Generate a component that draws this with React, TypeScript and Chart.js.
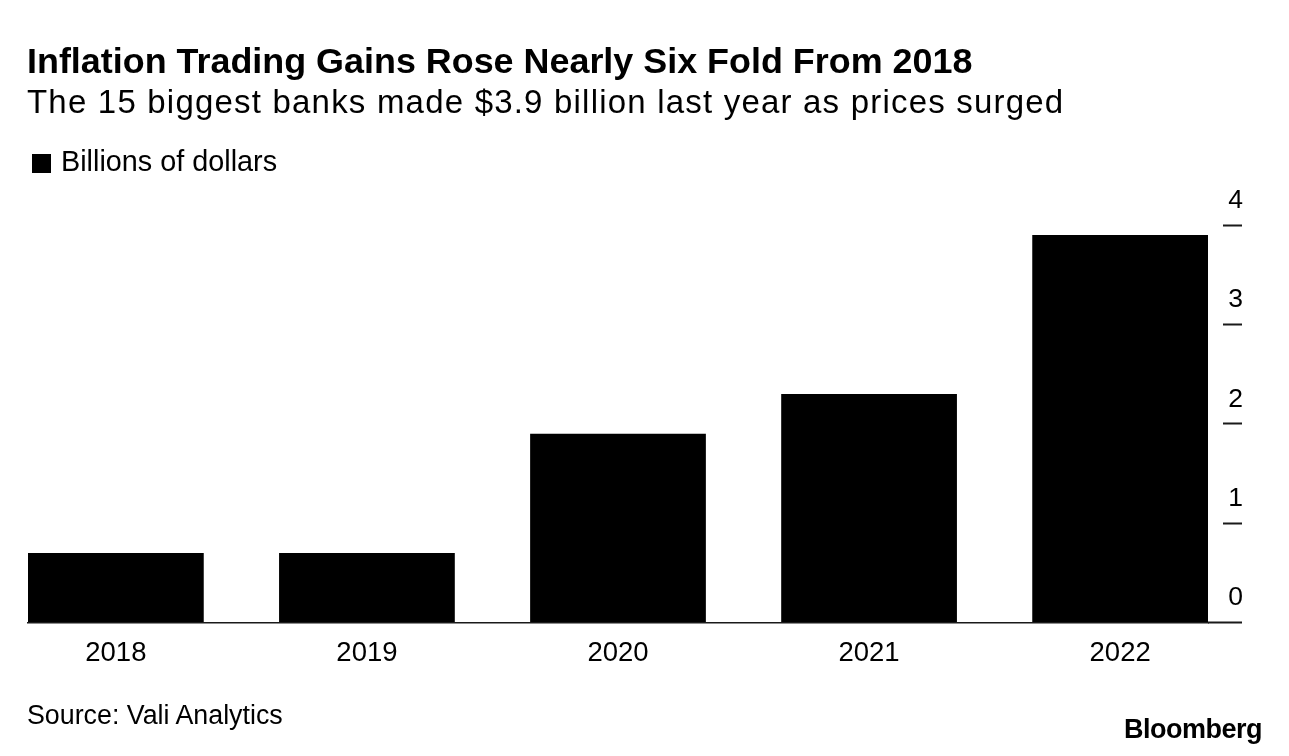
import React, { useEffect, useRef } from "react";
import { Chart, registerables } from "chart.js";

Chart.register(...registerables);

const categories = ["2018", "2019", "2020", "2021", "2022"];
const gains = [0.7, 0.7, 1.9, 2.3, 3.9];
const yMin = 0;
const yMax = 4;
const yStep = 1;
const seriesLabel = "Billions of dollars";
const titleText = "Inflation Trading Gains Rose Nearly Six Fold From 2018";
const subtitleText = "The 15 biggest banks made $3.9 billion last year as prices surged";
const sourceText = "Source: Vali Analytics";
const brandText = "Bloomberg";

const FONT = "'Liberation Sans', Arial, Helvetica, sans-serif";

export default function App() {
  const ref = useRef<HTMLCanvasElement | null>(null);

  useEffect(() => {
    if (!ref.current) return;
    Chart.defaults.font.family = FONT;
    const chart = new Chart(ref.current, {
      type: "bar",
      data: {
        datasets: [
          {
            label: seriesLabel,
            data: gains.map((v, i) => ({ x: i, y: v })),
            backgroundColor: "#000000",
            borderWidth: 0,
            barPercentage: 0.7,
            categoryPercentage: 1,
          },
        ],
      },
      options: {
        animation: false,
        responsive: false,
        events: [],
        layout: { padding: { left: 28, right: 46, top: 225, bottom: 83.5 } },
        plugins: {
          legend: { display: false },
          tooltip: { enabled: false },
          title: { display: false },
        },
        scales: {
          x: {
            type: "linear",
            position: "bottom",
            offset: false,
            min: -0.35,
            max: categories.length - 1 + 0.35,
            afterBuildTicks: (s: any) => {
              s.ticks = categories.map((_, i) => ({ value: i }));
            },
            afterFit: (s: any) => {
              s.height = 50;
            },
            grid: { display: false },
            border: { display: true, color: "#1a1a1a", width: 1.6 },
            ticks: {
              padding: 6.5,
              color: "#000000",
              font: { size: 27.5 },
              maxRotation: 0,
              autoSkip: false,
              callback: (v: any) => categories[v] ?? "",
            },
          },
          y: {
            type: "linear",
            position: "right",
            min: yMin,
            max: yMax,
            afterFit: (s: any) => {
              s.width = 35;
            },
            grid: {
              drawOnChartArea: false,
              drawTicks: true,
              tickLength: 34,
              tickColor: "#1a1a1a",
              tickWidth: 2,
              tickBorderDash: (ctx: any) =>
                ctx.tick && ctx.tick.value === 0 ? [] : [0, 15, 19, 100],
            } as any,
            border: { display: false },
            ticks: {
              stepSize: yStep,
              padding: -13.5,
              crossAlign: "far",
              labelOffset: -24.5,
              color: "#000000",
              font: { size: 26.5 },
            },
          },
        },
      } as any,
    });
    return () => chart.destroy();
  }, []);

  const abs = (extra: React.CSSProperties): React.CSSProperties => ({
    position: "absolute",
    whiteSpace: "nowrap",
    lineHeight: 1,
    ...extra,
  });

  return (
    <div
      style={{
        position: "fixed",
        left: 0,
        top: 0,
        width: 1289,
        height: 756,
        background: "#ffffff",
        overflow: "hidden",
        fontFamily: FONT,
        color: "#000000",
      }}
    >
      <canvas
        ref={ref}
        width={1289}
        height={756}
        style={{ position: "absolute", left: 0, top: 0 }}
      />
      <div style={abs({ left: 27, top: 43.6, fontSize: 35.9, fontWeight: 700 })}>
        {titleText}
      </div>
      <div style={abs({ left: 27, top: 85.4, fontSize: 33, letterSpacing: 1.2 })}>
        {subtitleText}
      </div>
      <div
        style={abs({
          left: 32,
          top: 154,
          width: 19,
          height: 19,
          background: "#000000",
        })}
      />
      <div style={abs({ left: 61, top: 147.3, fontSize: 28.8 })}>{seriesLabel}</div>
      <div style={abs({ left: 27, top: 702.4, fontSize: 26.8 })}>{sourceText}</div>
      <div
        style={abs({
          right: 27,
          top: 716.4,
          fontSize: 27,
          fontWeight: 700,
          letterSpacing: -0.5,
        })}
      >
        {brandText}
      </div>
    </div>
  );
}
